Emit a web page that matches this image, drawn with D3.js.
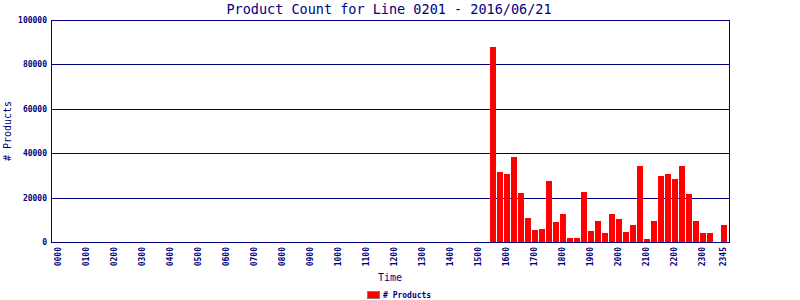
<!DOCTYPE html>
<html>
<head>
<meta charset="utf-8">
<script src="https://cdn.jsdelivr.net/npm/d3@7"></script>
<style>
  body { margin: 0; background: #fff; }
  svg { display: block; }
  text { font-family: "DejaVu Sans Mono", monospace; fill: #000080; }
</style>
</head>
<body>
<script>
// all quarter-hour slots of the day (x categories)
var slots = [
  "0000","0015","0030","0045","0100","0115","0130","0145","0200","0215","0230","0245",
  "0300","0315","0330","0345","0400","0415","0430","0445","0500","0515","0530","0545",
  "0600","0615","0630","0645","0700","0715","0730","0745","0800","0815","0830","0845",
  "0900","0915","0930","0945","1000","1015","1030","1045","1100","1115","1130","1145",
  "1200","1215","1230","1245","1300","1315","1330","1345","1400","1415","1430","1445",
  "1500","1515","1530","1545","1600","1615","1630","1645","1700","1715","1730","1745",
  "1800","1815","1830","1845","1900","1915","1930","1945","2000","2015","2030","2045",
  "2100","2115","2130","2145","2200","2215","2230","2245","2300","2315","2330","2345"
];

// times that have a count, and the counts
var times = [
  "1530","1545","1600","1615","1630","1645","1700","1715","1730","1745",
  "1800","1815","1830","1845","1900","1915","1930","1945","2000","2015",
  "2030","2045","2100","2115","2130","2145","2200","2215","2230","2245",
  "2300","2315","2330","2345"
];
var products = [
  88000, 31700, 30600, 38400, 22200, 11000, 5550, 6000, 27600, 9150,
  12750, 1950, 1950, 22650, 5100, 9600, 4200, 12750, 10500, 4650,
  7800, 34400, 1500, 9600, 29900, 30800, 28500, 34400, 21800, 9600,
  4200, 4200, 0, 7800
];

var xTickLabels = ["0000","0100","0200","0300","0400","0500","0600","0700","0800","0900",
  "1000","1100","1200","1300","1400","1500","1600","1700","1800","1900",
  "2000","2100","2200","2300","2345"];
var yTicks = [0, 20000, 40000, 60000, 80000, 100000];

var navy = "#000080";
var width = 800, height = 300;
var margin = {left: 51, right: 70, top: 20, bottom: 58};
var plotW = width - margin.left - margin.right;   // 679
var plotH = height - margin.top - margin.bottom;  // 222

var data = times.map(function (t, i) {
    return {time: t, value: products[i]};
});

var svg = d3.select("body").append("svg")
    .attr("width", width)
    .attr("height", height);

var xScale = d3.scalePoint()
    .domain(slots)
    .range([margin.left, margin.left + plotW])
    .padding(1);

var yScale = d3.scaleLinear()
    .domain([0, 100000])
    .range([margin.top + plotH, margin.top]);

// title
svg.append("text")
    .attr("x", 389)
    .attr("y", 14)
    .attr("text-anchor", "middle")
    .style("font-size", "13.5px")
    .text("Product Count for Line 0201 - 2016/06/21");

// grid lines
svg.append("g")
    .selectAll("line")
    .data(yTicks)
    .enter().append("line")
    .attr("x1", margin.left)
    .attr("x2", margin.left + plotW)
    .attr("y1", function (d) { return Math.round(yScale(d)) + 0.5; })
    .attr("y2", function (d) { return Math.round(yScale(d)) + 0.5; })
    .attr("stroke", navy)
    .attr("stroke-width", 1);

// bars
svg.append("g")
    .selectAll("rect")
    .data(data.filter(function (d) { return d.value > 0; }))
    .enter().append("rect")
    .attr("x", function (d) { return Math.round(xScale(d.time)) - 2; })
    .attr("width", 6)
    .attr("y", function (d) { return Math.round(yScale(d.value)); })
    .attr("height", function (d) { return Math.round(yScale(0)) - Math.round(yScale(d.value)); })
    .attr("fill", "#ff0000")
    .attr("shape-rendering", "crispEdges");

// frame
svg.append("rect")
    .attr("x", margin.left + 0.5)
    .attr("y", margin.top + 0.5)
    .attr("width", plotW - 1)
    .attr("height", plotH)
    .attr("fill", "none")
    .attr("stroke", navy)
    .attr("stroke-width", 1);

// y axis labels
var yAxis = d3.axisLeft(yScale)
    .tickValues(yTicks)
    .tickSize(0)
    .tickPadding(4)
    .tickFormat(d3.format("d"));

svg.append("g")
    .attr("transform", "translate(" + margin.left + ",0)")
    .call(yAxis)
    .call(function (g) { g.select(".domain").remove(); })
    .selectAll("text")
    .style("font-family", "'DejaVu Sans Mono', monospace")
    .style("font-size", "8px")
    .style("font-weight", "bold")
    .attr("fill", navy);

// x axis labels
var xAxis = d3.axisBottom(xScale)
    .tickValues(xTickLabels)
    .tickSize(0);

svg.append("g")
    .attr("transform", "translate(0," + (margin.top + plotH) + ")")
    .call(xAxis)
    .call(function (g) { g.select(".domain").remove(); })
    .selectAll("text")
    .attr("transform", "rotate(-90)")
    .attr("x", -5)
    .attr("y", 0)
    .attr("dy", "0.35em")
    .attr("text-anchor", "end")
    .style("font-family", "'DejaVu Sans Mono', monospace")
    .style("font-size", "8px")
    .style("font-weight", "bold")
    .attr("fill", navy);

// axis titles
svg.append("text")
    .attr("x", 390)
    .attr("y", 281)
    .attr("text-anchor", "middle")
    .style("font-size", "10px")
    .text("Time");

svg.append("text")
    .attr("transform", "translate(11,131) rotate(-90)")
    .attr("text-anchor", "middle")
    .style("font-size", "10px")
    .text("# Products");

// legend
svg.append("rect")
    .attr("x", 367.5)
    .attr("y", 291.5)
    .attr("width", 12)
    .attr("height", 7)
    .attr("fill", "#ff0000")
    .attr("stroke", "#808080")
    .attr("stroke-width", 1);

svg.append("text")
    .attr("x", 383)
    .attr("y", 298)
    .style("font-size", "8px")
    .style("font-weight", "bold")
    .text("# Products");
</script>
</body>
</html>
